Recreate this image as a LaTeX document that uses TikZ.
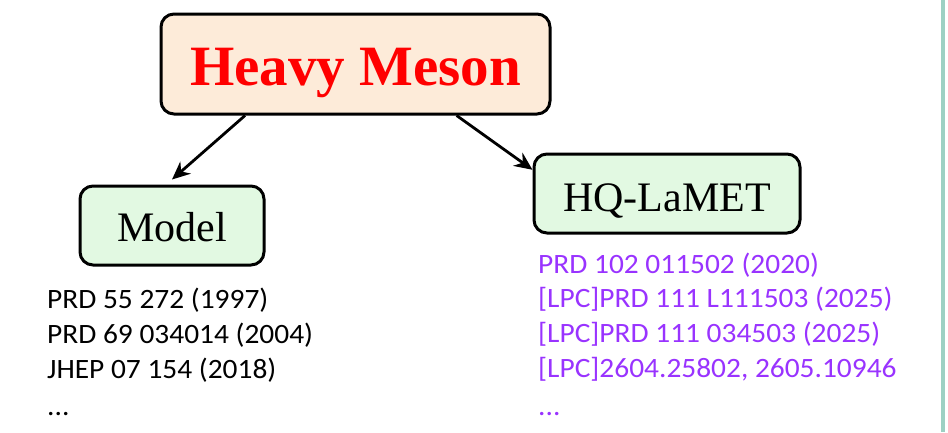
\documentclass[tikz,border=0pt]{standalone}
\usepackage{fontspec}
\setmainfont{Liberation Serif}
\newfontfamily\reffont[FakeStretch=1.05]{Carlito}
\usetikzlibrary{arrows.meta}
\definecolor{peach}{RGB}{253,235,217}
\definecolor{mint}{RGB}{226,249,226}
\definecolor{refpurple}{RGB}{153,51,255}
\definecolor{teal}{RGB}{157,208,195}
\tikzset{
  box/.style={draw=black, line width=3pt, rounded corners=13pt, inner sep=0pt, align=center},
  arr/.style={line width=2.8pt, -{Stealth[length=18pt,width=16pt]}},
  ref/.style={anchor=base west, inner sep=0pt, font=\reffont\fontsize{28}{30}\selectfont},
}
\begin{document}
\begin{tikzpicture}[x=1pt,y=-1pt]
\useasboundingbox (0,0) rectangle (948,432);
\draw[teal, line width=3.5pt] (943,0) -- (943,432);
\node[box, fill=peach, minimum width=389pt, minimum height=100pt, text height=42pt, text depth=0pt,
      font=\bfseries\fontsize{57}{60}\selectfont, text=red] (hm) at (355.5,64) {Heavy Meson};
\node[box, fill=mint, minimum width=184pt, minimum height=79pt, text height=31pt, text depth=0pt,
      font=\fontsize{42}{46}\selectfont] (model) at (172,225.5) {Model};
\node[box, fill=mint, minimum width=266pt, minimum height=79pt, text height=35pt, text depth=0pt,
      font=\fontsize{42}{46}\selectfont] (hq) at (667,193.5) {HQ-LaMET};
\draw[arr] (hm.205) -- ([yshift=5pt]model.north);
\draw[arr] (hm.333) -- (hq.170);
\node[ref] (l1) at (47,308) {PRD 55 272 (1997)};
\node[ref] (l2) at (47,343) {PRD 69 034014 (2004)};
\node[ref] (l3) at (47,378) {JHEP 07 154 (2018)};
\node[ref] (l4) at (47,415) {...};
\node[ref, text=refpurple] (r1) at (538,273) {PRD 102 011502 (2020)};
\node[ref, text=refpurple] (r2) at (538,307.5) {[LPC]PRD 111 L111503 (2025)};
\node[ref, text=refpurple] (r3) at (538,342) {[LPC]PRD 111 034503 (2025)};
\node[ref, text=refpurple] (r4) at (538,377) {[LPC]2604.25802, 2605.10946};
\node[ref, text=refpurple] (r5) at (538,415) {...};
\end{tikzpicture}
\end{document}
